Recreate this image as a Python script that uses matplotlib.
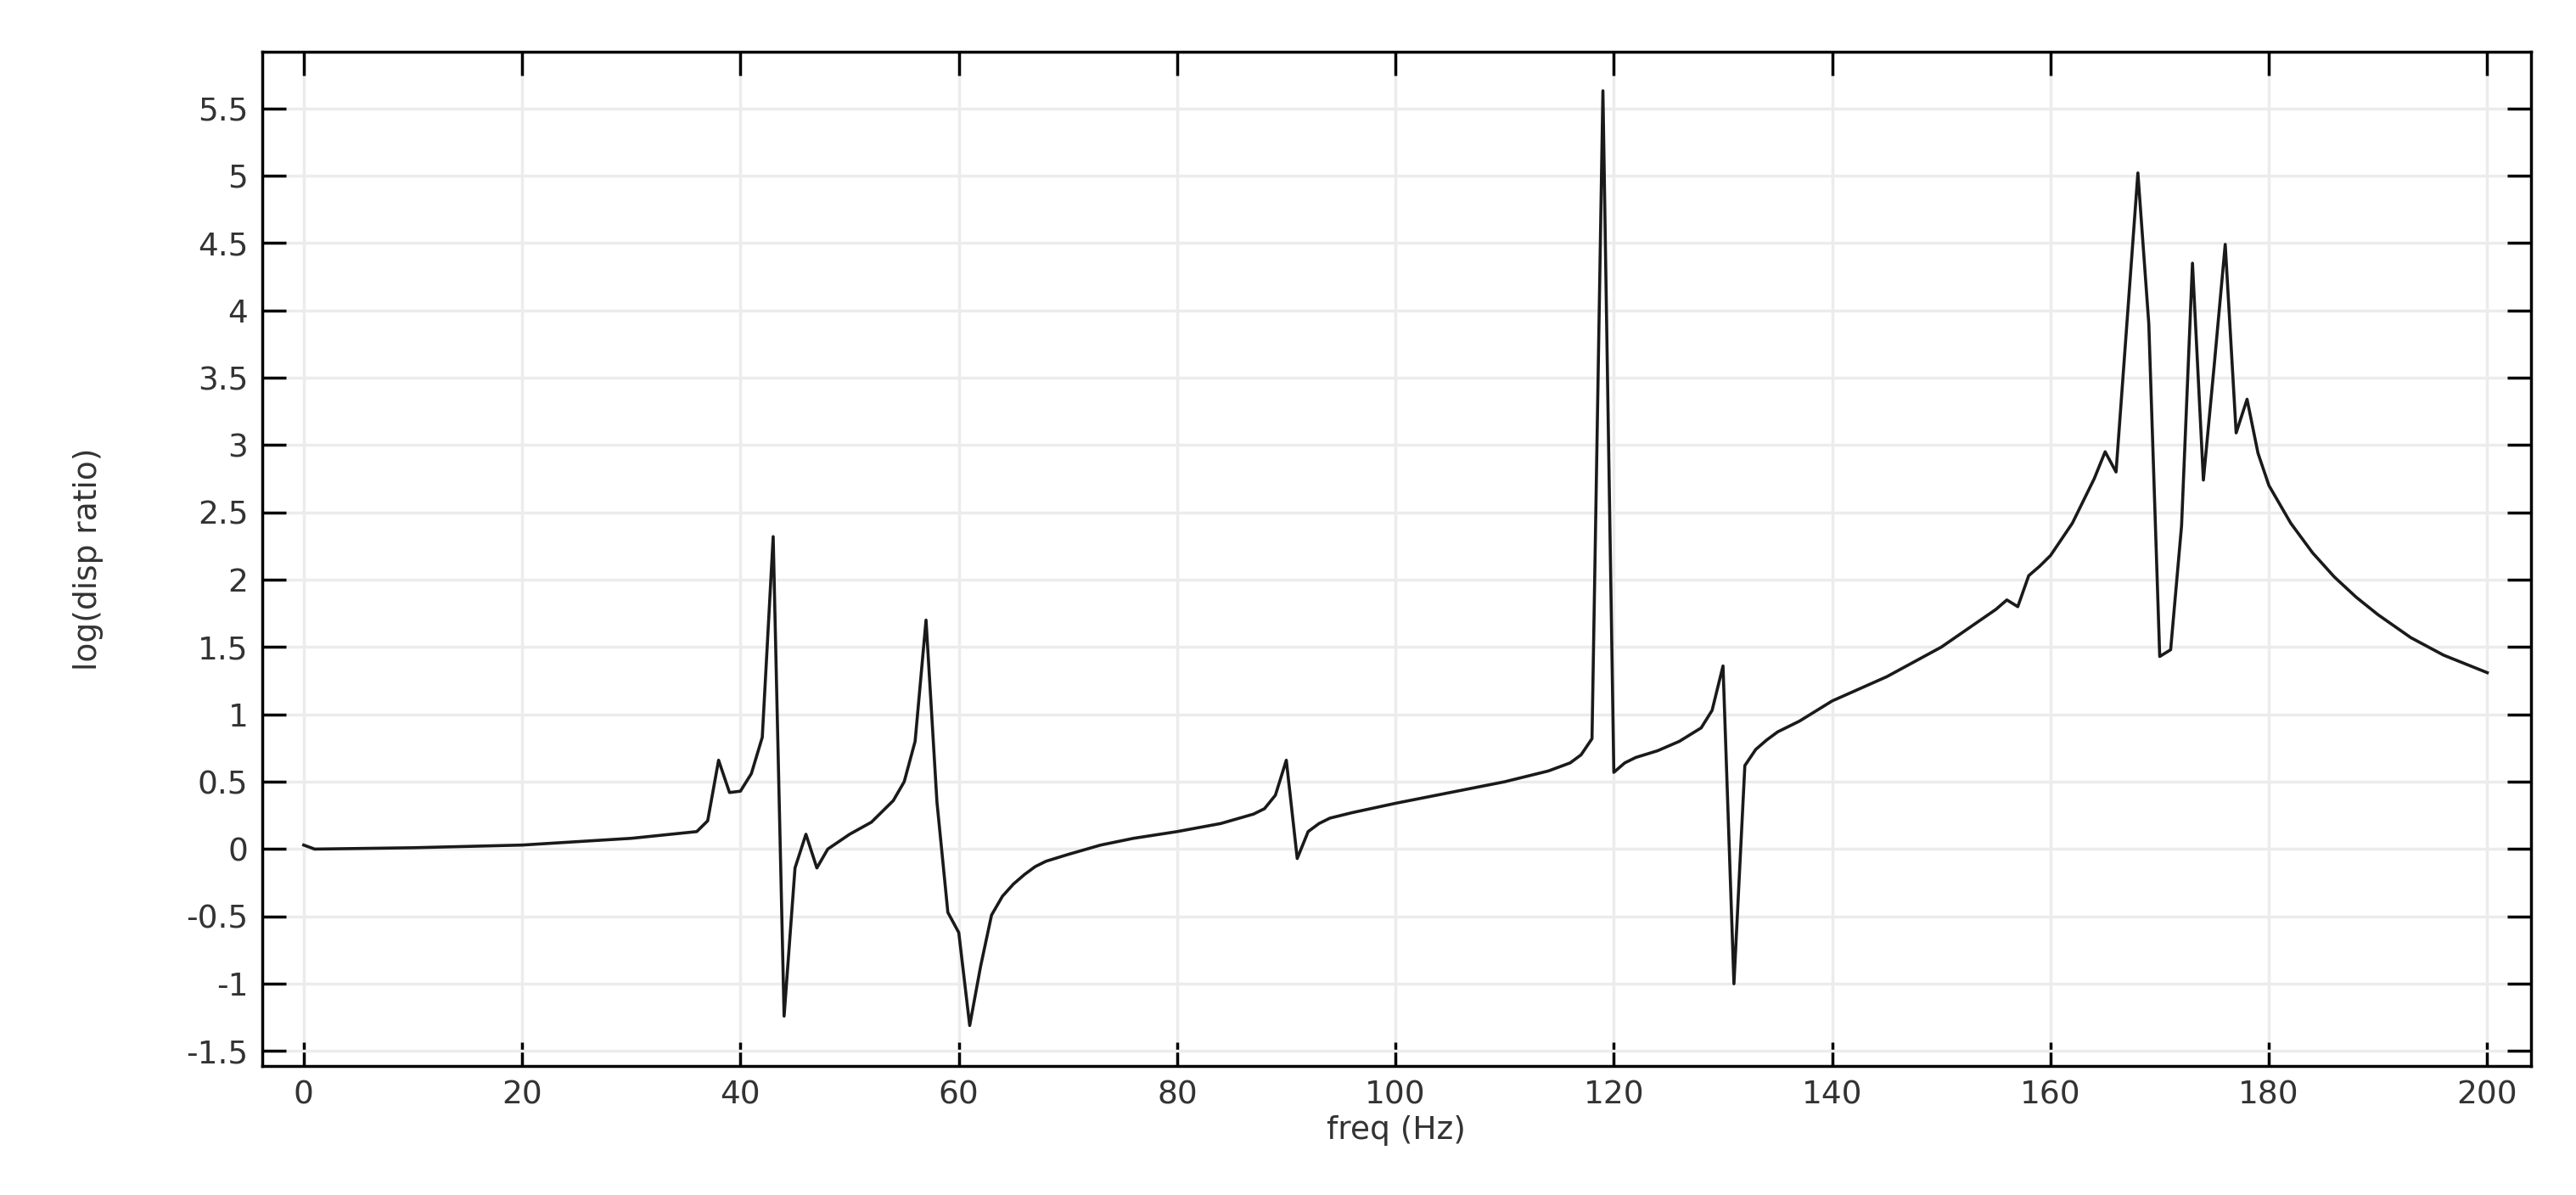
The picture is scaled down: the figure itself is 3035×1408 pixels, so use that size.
import matplotlib
matplotlib.use('Agg')
from matplotlib import pyplot as plt
from matplotlib.ticker import MultipleLocator, FuncFormatter

# frequency (Hz) and log of displacement ratio
freq = [0, 1, 10, 20, 30, 36, 37, 38, 39, 40, 41, 42, 43, 44, 45, 46, 47, 48,
        50, 52, 54, 55, 56, 57, 58, 59, 60, 61, 62, 63, 64, 65, 66, 67, 68, 70,
        73, 76, 80, 84, 87, 88, 89, 90, 91, 92, 93, 94, 96, 100, 105, 110, 114,
        116, 117, 118, 119, 120, 121, 122, 124, 126, 128, 129, 130, 131, 132,
        133, 134, 135, 137, 140, 145, 150, 155, 156, 157, 158, 159, 160, 162,
        164, 165, 166, 168, 169, 170, 171, 172, 173, 174, 175, 176, 177, 178,
        179, 180, 182, 184, 186, 188, 190, 193, 196, 200]
log_ratio = [0.03, 0.0, 0.01, 0.03, 0.08, 0.13, 0.21, 0.66, 0.42, 0.43, 0.56,
             0.83, 2.32, -1.24, -0.14, 0.11, -0.14, 0.0,
             0.11, 0.2, 0.36, 0.5, 0.8, 1.7, 0.35, -0.47, -0.62, -1.31, -0.87,
             -0.49, -0.35, -0.26, -0.19, -0.13, -0.09, -0.04,
             0.03, 0.08, 0.13, 0.19, 0.26, 0.3, 0.4, 0.66, -0.07, 0.13, 0.19,
             0.23, 0.27, 0.34, 0.42, 0.5, 0.58,
             0.64, 0.7, 0.82, 5.63, 0.57, 0.64, 0.68, 0.73, 0.8, 0.9, 1.03,
             1.36, -1.0, 0.62,
             0.74, 0.81, 0.87, 0.95, 1.1, 1.28, 1.5, 1.78, 1.85, 1.8, 2.03, 2.1,
             2.18, 2.42,
             2.75, 2.95, 2.8, 5.02, 3.9, 1.43, 1.48, 2.4, 4.35, 2.74, 3.6, 4.49,
             3.09, 3.34,
             2.94, 2.7, 2.42, 2.2, 2.02, 1.87, 1.74, 1.57, 1.44, 1.31]

plt.rcParams['font.family'] = 'DejaVu Sans'
fig = plt.figure(figsize=(30.35, 14.08), dpi=100)
ax = fig.add_axes([0.1018, 0.108, 0.8807, 0.8487])

ax.plot(freq, log_ratio, color='#1a1a1a', lw=2.6)

ax.set_xlim(-3.8, 204)
ax.set_ylim(-1.61, 5.92)
ax.xaxis.set_major_locator(MultipleLocator(20))
ax.yaxis.set_major_locator(MultipleLocator(0.5))
ax.yaxis.set_major_formatter(FuncFormatter(lambda v, p: ('%g' % round(v, 2))))
ax.grid(True, color='#ececec', lw=2.5)
ax.set_axisbelow(True)
ax.tick_params(direction='in', length=20, width=2.5, top=True, right=True,
               labelsize=27, labelcolor='#333333', pad=12)
for s in ax.spines.values():
    s.set_linewidth(2.5)

ax.set_xlabel('freq (Hz)', fontsize=27, color='#333333', labelpad=4)
ax.set_ylabel('log(disp ratio)', fontsize=27, color='#333333', labelpad=70)

fig.savefig('out.png', dpi=100)
